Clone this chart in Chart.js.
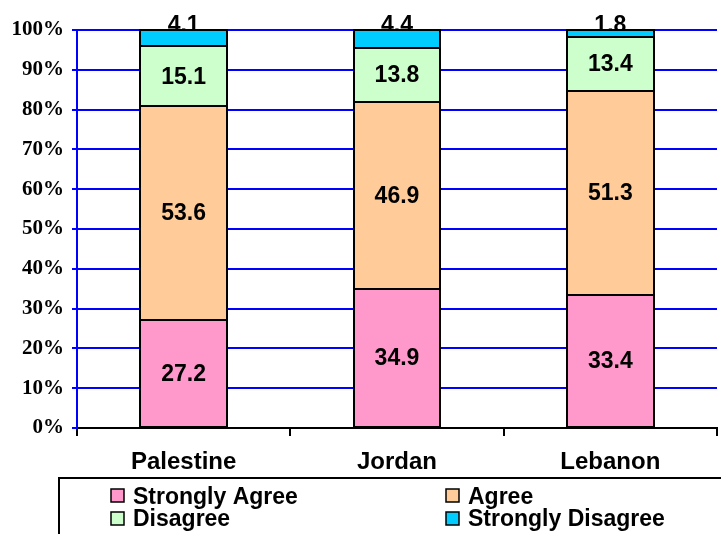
<!DOCTYPE html>
<html>
<head>
<meta charset="utf-8">
<script src="https://cdn.jsdelivr.net/npm/chart.js@4/dist/chart.umd.min.js"></script>
<style>
html,body{margin:0;padding:0;background:#fff;overflow:hidden;}
#wrap{position:relative;width:721px;height:534px;}
</style>
</head>
<body>
<div id="wrap"><canvas id="c" width="721" height="534"></canvas></div>
<script>
const categories = ["Palestine", "Jordan", "Lebanon"];
const seriesNames = ["Strongly Agree", "Agree", "Disagree", "Strongly Disagree"];
const stronglyAgree = [27.2, 34.9, 33.4];
const agree = [53.6, 46.9, 51.3];
const disagree = [15.1, 13.8, 13.4];
const stronglyDisagree = [4.1, 4.4, 1.8];
const colors = ["#FF99CC", "#FFCC99", "#CCFFCC", "#00CCFF"];
const yTicks = [0, 10, 20, 30, 40, 50, 60, 70, 80, 90, 100];

const raw = [stronglyAgree, agree, disagree, stronglyDisagree];
const totals = categories.map((_, i) => raw.reduce((s, a) => s + a[i], 0));
const datasets = raw.map((arr, k) => ({
  label: seriesNames[k],
  data: arr.map((v, i) => v / totals[i] * 100),
  rawValues: arr,
  backgroundColor: colors[k],
  borderWidth: 0,
  barPercentage: 0.405,
  categoryPercentage: 1.0
}));

const LABEL_FONT = "bold 23px 'Liberation Sans', Arial, sans-serif";

const labelPlugin = {
  id: "segLabels",
  beforeDatasetsDraw(chart) {
    const ctx = chart.ctx;
    const last = chart.data.datasets.length - 1;
    const meta = chart.getDatasetMeta(last);
    ctx.save();
    ctx.font = LABEL_FONT;
    ctx.fillStyle = "#000";
    ctx.textAlign = "center";
    ctx.textBaseline = "alphabetic";
    meta.data.forEach((bar, i) => {
      const v = chart.data.datasets[last].rawValues[i];
      ctx.fillText(v.toFixed(1), bar.x, bar.y + 1.5);
    });
    ctx.restore();
  },
  afterDatasetsDraw(chart) {
    const ctx = chart.ctx;
    ctx.save();
    // outlines
    ctx.strokeStyle = "#000";
    ctx.lineWidth = 2;
    chart.data.datasets.forEach((ds, k) => {
      const meta = chart.getDatasetMeta(k);
      meta.data.forEach(bar => {
        const l = Math.round(bar.x - bar.width / 2);
        const r = Math.round(bar.x + bar.width / 2);
        const t = Math.round(Math.min(bar.y, bar.base));
        const b = Math.round(Math.max(bar.y, bar.base));
        ctx.strokeRect(l, t, r - l, b - t);
      });
    });
    ctx.font = LABEL_FONT;
    ctx.fillStyle = "#000";
    ctx.textAlign = "center";
    ctx.textBaseline = "middle";
    chart.data.datasets.forEach((ds, k) => {
      if (k === chart.data.datasets.length - 1) return;
      const meta = chart.getDatasetMeta(k);
      meta.data.forEach((bar, i) => {
        const mid = (bar.y + bar.base) / 2;
        ctx.fillText(ds.rawValues[i].toFixed(1), bar.x, mid + 1);
      });
    });
    ctx.restore();
  }
};

const legendPlugin = {
  id: "boxLegend",
  afterDraw(chart) {
    const ctx = chart.ctx;
    ctx.save();
    ctx.lineWidth = 2;
    ctx.strokeStyle = "#000";
    ctx.strokeRect(59, 478, 670, 70);
    const colX = [111, 446];
    const rowY = [489, 512];
    const baseY = [504, 526];
    ctx.font = "bold 23px 'Liberation Sans', Arial, sans-serif";
    ctx.textBaseline = "alphabetic";
    ctx.textAlign = "left";
    chart.data.datasets.forEach((ds, idx) => {
      const c = idx % 2, r = Math.floor(idx / 2);
      ctx.fillStyle = ds.backgroundColor;
      ctx.fillRect(colX[c], rowY[r], 13, 13);
      ctx.lineWidth = 1.5;
      ctx.strokeStyle = "#000";
      ctx.strokeRect(colX[c], rowY[r], 13, 13);
      ctx.fillStyle = "#000";
      ctx.fillText(ds.label, colX[c] + 22, baseY[r]);
    });
    ctx.restore();
  }
};

new Chart(document.getElementById("c"), {
  type: "bar",
  data: { labels: categories, datasets },
  plugins: [labelPlugin, legendPlugin],
  options: {
    responsive: false,
    animation: false,
    layout: { padding: { left: 0, top: 30, right: 4, bottom: 0 } },
    plugins: { legend: { display: false }, tooltip: { enabled: false } },
    scales: {
      x: {
        stacked: true,
        afterFit(s) { s.height = 106; },
        grid: {
          display: true, drawOnChartArea: false, drawTicks: true,
          tickLength: 8, color: "#000", lineWidth: 2, offset: true
        },
        border: { display: true, color: "#000", width: 2 },
        ticks: {
          color: "#000", padding: 12,
          font: { family: "'Liberation Sans', Arial, sans-serif", size: 24, weight: "bold" }
        }
      },
      y: {
        stacked: true,
        min: 0, max: 100,
        afterFit(s) { s.width = 77; },
        afterBuildTicks(s) { s.ticks = yTicks.map(v => ({ value: v })); },
        grid: { color: "#0000FF", lineWidth: 2, tickLength: 5, drawTicks: true },
        border: { display: true, color: "#0000FF", width: 2 },
        ticks: {
          color: "#000", padding: 8,
          callback: v => v + "%",
          font: { family: "'Liberation Serif', 'Times New Roman', serif", size: 21, weight: "bold" }
        }
      }
    }
  }
});
</script>
</body>
</html>
